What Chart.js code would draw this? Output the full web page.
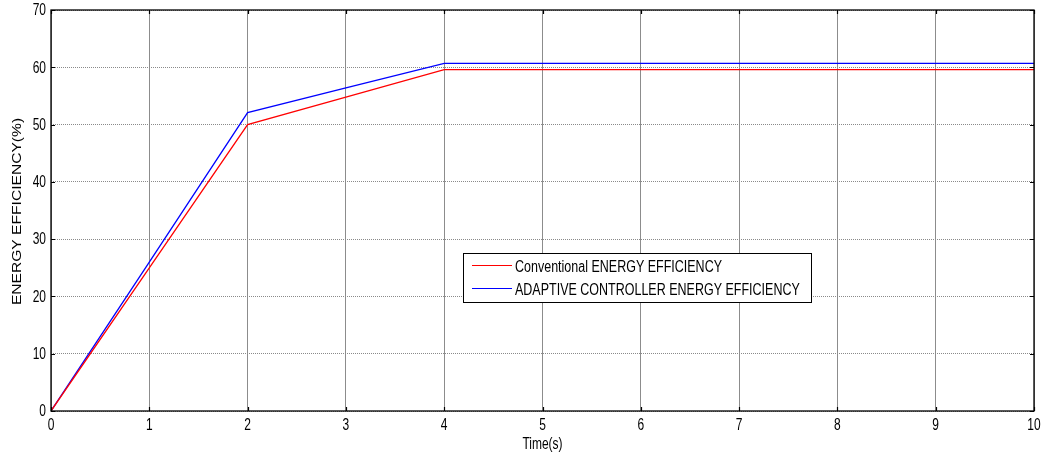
<!DOCTYPE html>
<html>
<head>
<meta charset="utf-8">
<script src="https://cdn.jsdelivr.net/npm/chart.js@4/dist/chart.umd.min.js"></script>
<style>
html,body{margin:0;padding:0;background:#fff;}
#wrap{width:1044px;height:455px;position:relative;}
</style>
</head>
<body>
<div id="wrap"><canvas id="c" width="1044" height="455"></canvas></div>
<script>
const timeS = [0, 1, 2, 3, 4, 5, 6, 7, 8, 9, 10];
const conventional = [0, 25, 50, 54.8, 59.6, 59.6, 59.6, 59.6, 59.6, 59.6, 59.6];
const adaptive = [0, 26, 52.1, 56.4, 60.7, 60.7, 60.7, 60.7, 60.7, 60.7, 60.7];
const seriesLabels = ['Conventional ENERGY EFFICIENCY', 'ADAPTIVE CONTROLLER ENERGY EFFICIENCY'];
const xTitle = 'Time(s)';
const yTitle = 'ENERGY EFFICIENCY(%)';

const FONT = "'Liberation Sans', Arial, sans-serif";
const VS = 1.3; // vertical stretch of text in the reference

function stretchedText(ctx, text, x, y, align, rotate, size) {
  ctx.save();
  ctx.translate(x, y);
  if (rotate) {
    ctx.rotate(-Math.PI / 2);
    ctx.scale(VS, 1);
  } else {
    ctx.scale(1, VS);
  }
  ctx.font = (size || 12) + 'px ' + FONT;
  ctx.textAlign = align;
  ctx.textBaseline = 'middle';
  ctx.fillStyle = '#000';
  ctx.fillText(text, 0, 0);
  ctx.restore();
}

const frame = {
  id: 'frame',
  afterDraw(chart) {
    const {ctx, chartArea: a, scales} = chart;
    ctx.save();
    ctx.strokeStyle = '#000';
    ctx.lineWidth = 1.3;
    ctx.strokeRect(a.left, a.top, a.right - a.left, a.bottom - a.top);
    ctx.lineWidth = 1.2;
    const tl = 4;
    scales.x.ticks.forEach(t => {
      const px = scales.x.getPixelForValue(t.value);
      const x = Math.round(px) + 0.5;
      ctx.beginPath();
      ctx.moveTo(x, a.bottom); ctx.lineTo(x, a.bottom - tl);
      ctx.moveTo(x, a.top); ctx.lineTo(x, a.top + tl);
      ctx.stroke();
      stretchedText(ctx, String(t.value), px, a.bottom + 15, 'center', false, 12);
    });
    scales.y.ticks.forEach(t => {
      const py = scales.y.getPixelForValue(t.value);
      const y = Math.round(py) + 0.5;
      ctx.beginPath();
      ctx.moveTo(a.left, y); ctx.lineTo(a.left + tl, y);
      ctx.moveTo(a.right, y); ctx.lineTo(a.right - tl, y);
      ctx.stroke();
      stretchedText(ctx, String(t.value), a.left - 5, py + 1, 'right', false, 12);
    });
    // axis titles
    stretchedText(ctx, xTitle, (a.left + a.right) / 2, 445, 'center', false, 12);
    stretchedText(ctx, yTitle, 18, (a.top + a.bottom) / 2 + 1, 'center', true, 12);
    // legend
    const bx = 463, by = 253, bw = 348, bh = 49;
    ctx.fillStyle = '#fff';
    ctx.fillRect(bx, by, bw, bh);
    ctx.strokeStyle = '#000';
    ctx.lineWidth = 1;
    ctx.strokeRect(bx + 0.5, by + 0.5, bw, bh);
    chart.data.datasets.forEach((ds, i) => {
      const y = by + 12 + i * 23;
      ctx.strokeStyle = ds.borderColor;
      ctx.lineWidth = 1;
      ctx.beginPath();
      ctx.moveTo(bx + 9, y + 0.5); ctx.lineTo(bx + 49, y + 0.5);
      ctx.stroke();
      stretchedText(ctx, ds.label, bx + 52, y + 3, 'left', false, 12.5);
    });
    ctx.restore();
  }
};

new Chart(document.getElementById('c'), {
  type: 'line',
  data: {
    datasets: [
      {label: seriesLabels[0], data: timeS.map((t, i) => ({x: t, y: conventional[i]})), borderColor: '#ff0000', borderWidth: 1.3, pointRadius: 0, fill: false, tension: 0},
      {label: seriesLabels[1], data: timeS.map((t, i) => ({x: t, y: adaptive[i]})), borderColor: '#0000ff', borderWidth: 1.3, pointRadius: 0, fill: false, tension: 0}
    ]
  },
  options: {
    responsive: false,
    animation: false,
    devicePixelRatio: 1,
    layout: {padding: {left: 0, right: 10, top: 10, bottom: 0}},
    plugins: {legend: {display: false}, tooltip: {enabled: false}},
    scales: {
      x: {
        type: 'linear', min: 0, max: 10,
        ticks: {stepSize: 1, display: false},
        grid: {color: '#8c8c8c', lineWidth: 1, drawTicks: false},
        border: {display: false},
        title: {display: false, text: xTitle},
        afterFit(s) { s.height = 44; }
      },
      y: {
        min: 0, max: 70,
        ticks: {stepSize: 10, display: false},
        grid: {color: '#8a8a8a', lineWidth: 1, drawTicks: false},
        border: {display: false, dash: [1, 1]},
        title: {display: false, text: yTitle},
        afterFit(s) { s.width = 51; }
      }
    }
  },
  plugins: [frame]
});
</script>
</body>
</html>
